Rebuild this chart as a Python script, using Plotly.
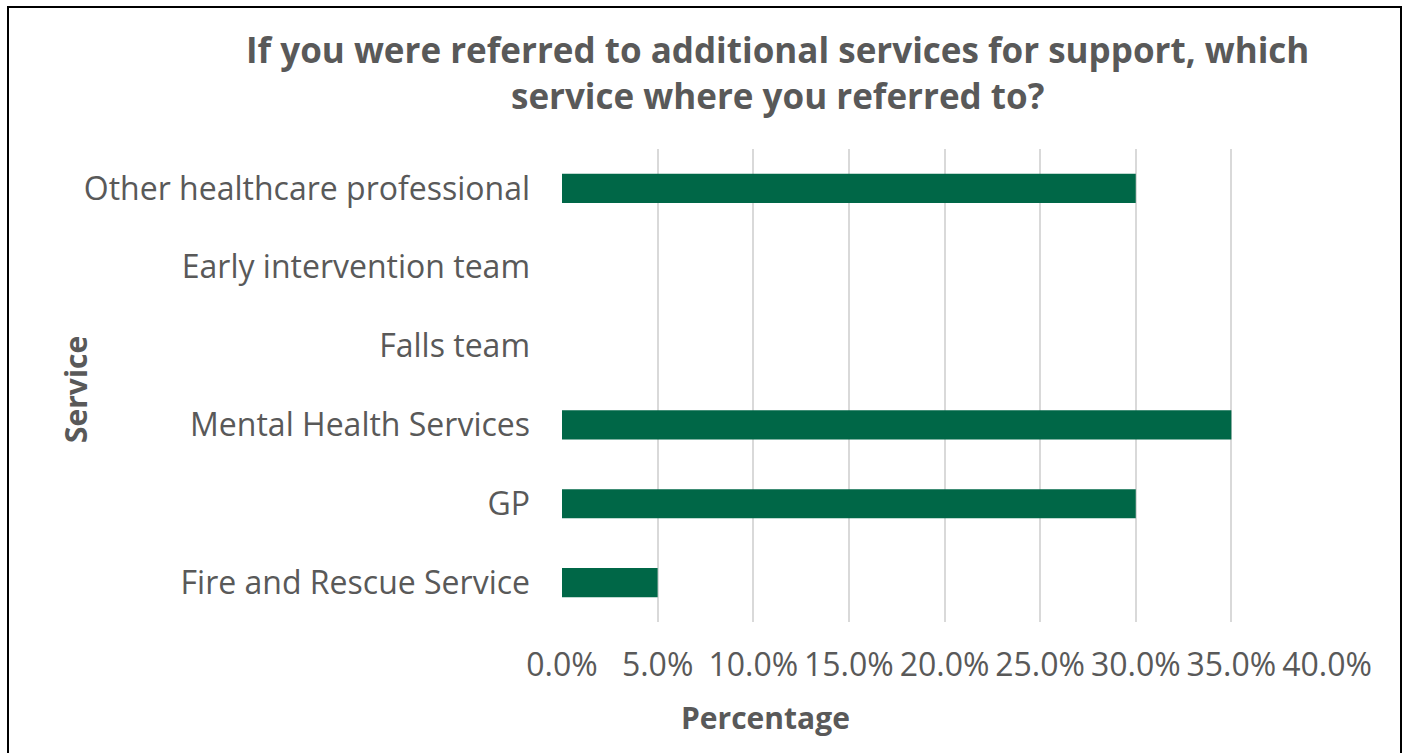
import plotly.graph_objects as go

# Survey responses: share of referrals by service
services = [
    "Fire and Rescue Service",
    "GP",
    "Mental Health Services",
    "Falls team",
    "Early intervention team",
    "Other healthcare professional",
]
percentages = [5.0, 30.0, 35.0, 0.0, 0.0, 30.0]
tick_values = [0, 5, 10, 15, 20, 25, 30, 35, 40]
tick_labels = ["0.0%", "5.0%", "10.0%", "15.0%", "20.0%", "25.0%", "30.0%", "35.0%", "40.0%"]

W, H = 1408, 753
L, R, T, B = 562, 81, 149, 131
TEXT = "#595959"
FONT = "Open Sans"


def px_x(px):
    return (px - L) / (W - L - R)


def px_y(py):
    return 1 - (py - T) / (H - T - B)


fig = go.Figure(
    go.Bar(
        x=percentages,
        y=services,
        orientation="h",
        marker=dict(color="#006747", line=dict(width=0)),
        hoverinfo="skip",
    )
)

fig.update_layout(
    width=W,
    height=H,
    margin=dict(l=L, r=R, t=T, b=B, pad=0),
    paper_bgcolor="white",
    plot_bgcolor="white",
    bargap=0.63,
    showlegend=False,
    font=dict(family=FONT, color=TEXT, size=32),
    xaxis=dict(
        range=[0, 40],
        tickvals=tick_values,
        ticktext=tick_labels,
        showgrid=True,
        gridcolor="#d9d9d9",
        gridwidth=2,
        zeroline=False,
        showline=False,
        ticks="",
        ticklabelstandoff=21,
        tickfont=dict(size=32, color=TEXT, family=FONT),
    ),
    yaxis=dict(
        showgrid=False,
        zeroline=False,
        showline=False,
        ticks="",
        ticklabelstandoff=31,
        tickfont=dict(size=32, color=TEXT, family=FONT),
    ),
    annotations=[
        dict(
            text="<b>If you were referred to additional services for support, which<br>service where you referred to?</b>",
            xref="paper", yref="paper",
            x=px_x(777), y=px_y(73),
            xanchor="center", yanchor="middle",
            showarrow=False,
            font=dict(size=35, color=TEXT, family=FONT),
            align="center",
        ),
        dict(
            text="<b>Percentage</b>",
            xref="paper", yref="paper",
            x=px_x(765), y=px_y(717),
            xanchor="center", yanchor="middle",
            showarrow=False,
            font=dict(size=30, color=TEXT, family=FONT),
        ),
        dict(
            text="<b>Service</b>",
            xref="paper", yref="paper",
            x=px_x(75), y=px_y(390),
            xanchor="center", yanchor="middle",
            textangle=-90,
            showarrow=False,
            font=dict(size=30, color=TEXT, family=FONT),
        ),
    ],
    shapes=[
        dict(
            type="rect",
            xref="paper", yref="paper",
            x0=px_x(8), x1=px_x(1401),
            y0=px_y(770), y1=px_y(7),
            line=dict(color="black", width=2),
            fillcolor="rgba(0,0,0,0)",
            layer="above",
        )
    ],
)

fig.write_html("out.html")
